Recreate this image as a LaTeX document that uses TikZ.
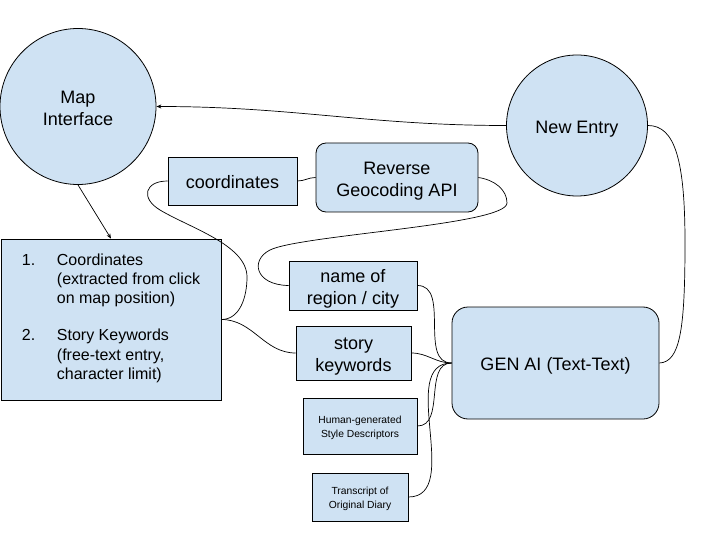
\documentclass[tikz,border=0pt]{standalone}
\usepackage{fontspec}
\setmainfont{Liberation Sans}
\usetikzlibrary{arrows.meta}
\definecolor{boxblue}{HTML}{CFE2F3}
\newcommand{\mltext}[2][-3.3pt]{\raisebox{#1}[\height][\depth]{\begin{tabular}{@{}c@{}}#2\end{tabular}}}
\tikzset{
  base/.style={draw=black, line width=0.8pt, fill=boxblue, inner sep=0pt,
    font=\fontsize{18}{22}\selectfont},
  circ/.style={base, circle},
  sqbox/.style={base, rectangle},
  rbox/.style={base, rectangle, rounded corners=#1},
  smallbox/.style={base, rectangle, font=\fontsize{10.3}{14}\selectfont},
  conn/.style={draw=black, line width=0.7pt},
  arr/.style={conn, -{Stealth[length=5pt,width=4pt]}}
}
\begin{document}
\begin{tikzpicture}[x=1pt,y=-1pt]
\useasboundingbox (0,0) rectangle (720,540);
% nodes
\node[circ, minimum size=156pt] (map) at (78,106.5) {\mltext{Map\\Interface}};
\node[circ, minimum size=141pt] (newentry) at (577,125.5) {\mltext{New Entry}};
\node[sqbox, minimum width=129pt, minimum height=48pt] (coords) at (232.5,181) {\mltext{coordinates}};
\node[rbox=10pt, minimum width=162pt, minimum height=69pt] (rev) at (397,177.5) {\mltext{Reverse\\Geocoding API}};
\node[sqbox, minimum width=128pt, minimum height=49pt] (region) at (353,285.5) {\mltext{name of\\region / city}};
\node[sqbox, minimum width=115pt, minimum height=54pt] (story) at (353.5,353) {\mltext{story\\keywords}};
\node[smallbox, minimum width=114pt, minimum height=56pt] (human) at (360,426) {\mltext[-1.5pt]{Human-generated\\Style Descriptors}};
\node[smallbox, minimum width=96pt, minimum height=48pt] (transcript) at (360,497) {\mltext[-1.5pt]{Transcript of\\Original Diary}};
\node[rbox=16pt, minimum width=207pt, minimum height=112pt] (genai) at (555.5,363) {\mltext{GEN AI (Text-Text)}};
\node[sqbox, minimum width=220pt, minimum height=161pt, font=\fontsize{16}{19.2}\selectfont] (input) at (111,319.5)
 {\raisebox{1pt}[\height][\depth]{\begin{tabular}{@{}p{35pt}@{}l@{}}
  1. & Coordinates\\
     & (extracted from click\\
     & on map position)\\[18pt]
  2. & Story Keywords\\
     & (free-text entry,\\
     & character limit)
 \end{tabular}}};
% connectors
\draw[arr] (newentry.west) to[out=180,in=0] (map.east);
\draw[arr] (map.south) -- (input.north);
\draw[conn] (input.east) .. controls (240,319.5) and (247,297) .. (247,277)
  .. controls (247,245) and (190,228) .. (160,210)
  .. controls (140,198) and (145,181) .. (coords.west);
\draw[conn] (input.east) to[out=0,in=180] (story.west);
\draw[conn] (coords.east) to[out=0,in=180] (rev.west);
\draw[conn] (rev.east) .. controls (495,180) and (507,190) .. (507,203)
  .. controls (507,225) and (300,235) .. (270,250)
  .. controls (250,260) and (255,285) .. (region.west);
\draw[conn] (region.east) to[out=0,in=180] (genai.west);
\draw[conn] (story.east) to[out=0,in=180] (genai.west);
\draw[conn] (human.east) to[out=0,in=180] (genai.west);
\draw[conn] (transcript.east) to[out=0,in=180] (genai.west);
\draw[conn] (genai.east) .. controls (680,362) and (685,330) .. (685,243)
  .. controls (685,160) and (675,125.5) .. (newentry.east);
\end{tikzpicture}
\end{document}
